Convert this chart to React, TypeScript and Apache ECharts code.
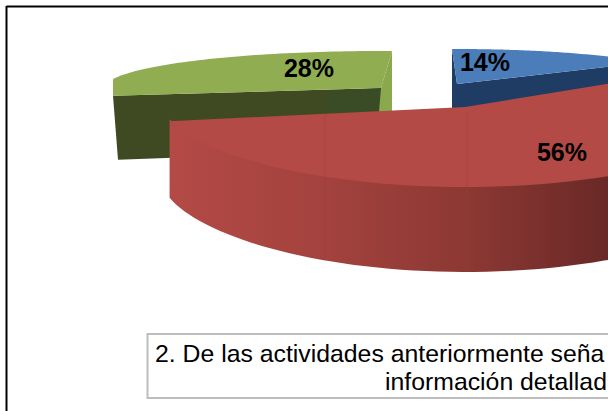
import React, { useEffect, useRef } from "react";
import * as echarts from "echarts";

const sliceNames = ["azul", "rojo", "verde"];
const sliceValues = [14, 56, 28];
const captionLines = ["2. De las actividades anteriormente seña", "información detallad"];

type Geo = { cx: number; cy: number; a: number; bBack: number; bFront: number; h: number; dh: number; minX: number;
  top: string; wall: string; lx: number; ly: number };
const geo: Geo[] = [
  { cx: 457, cy: 84, a: 243, bBack: 35, bFront: 35, h: 60, dh: 0, minX: 0, top: "#4a7db9", wall: "#1f3c64", lx: 485, ly: 62 },
  { cx: 465, cy: 107, a: 303, bBack: 62, bFront: 80, h: 74, dh: 11, minX: 0, top: "#b34a46", wall: "#a5423f", lx: 562, ly: 152 },
  { cx: 381, cy: 88, a: 276, bBack: 37, bFront: 44, h: 64, dh: 0, minX: 113, top: "#90ad52", wall: "#3f4a23", lx: 309, ly: 68 },
];

function rim(g: Geo, deg: number, drop = false): number[] {
  const t = (deg * Math.PI) / 180;
  const s = Math.sin(t);
  const x = Math.max(g.minX, g.cx + g.a * Math.cos(t));
  const y = s >= 0 ? g.cy - g.bBack * s : g.cy + g.bFront * Math.pow(-s, 1.15);
  return [x, drop ? y + g.h + g.dh * Math.abs(s) : y];
}

function arc(g: Geo, from: number, to: number, drop = false): number[][] {
  const pts: number[][] = [];
  const n = 72;
  for (let i = 0; i <= n; i++) pts.push(rim(g, from + ((to - from) * i) / n, drop));
  return pts;
}

function bounds(i: number): [number, number] {
  const total = sliceValues.reduce((a, b) => a + b, 0);
  let start = 90;
  for (let k = 0; k < i; k++) start -= (sliceValues[k] / total) * 360;
  return [start, start - (sliceValues[i] / total) * 360];
}

const poly = (points: number[][], fill: any, z2 = 0) => ({ type: "polygon", z2, shape: { points }, style: { fill } });

function renderSlice(i: number) {
  const g = geo[i];
  const v = sliceValues[i];
  const [s, e] = bounds(i);
  const apex = [g.cx, g.cy];
  const children: any[] = [];
  const face = [apex, ...arc(g, s, e)];
  if (i === 0) {
    const corner = rim(g, e);
    children.push(poly([apex, corner, [corner[0], corner[1] + g.h], [g.cx, g.cy + g.h]], g.wall));
    children.push(poly([[g.cx - 5, g.cy - g.bBack], apex, [g.cx, g.cy + 24], [g.cx - 5, g.cy + 24]], g.wall));
    face.splice(1, 0, [g.cx - 5, g.cy - g.bBack]);
  }
  if (i === 1) {
    const upper = arc(g, e, 0).map(([x, y]) => [x, y - 2]);
    const wall = [...upper, ...arc(g, 0, e, true)];
    children.push(poly(wall, new echarts.graphic.LinearGradient(0, 0, 1, 0, [
      { offset: 0, color: "#b34a46" },
      { offset: 0.26, color: "#a3423e" },
      { offset: 0.5, color: "#8c3833" },
      { offset: 0.74, color: "#682826" },
      { offset: 1, color: "#5a2220" },
    ])));
  }
  if (i === 2) {
    const left = rim(g, s);
    const tip = [g.cx + 11, g.cy - g.bBack];
    children.push(poly([left, apex, [g.cx, g.cy + 62], [left[0] + 5, left[1] + g.h]], g.wall));
    children.push(poly([[g.cx - 53, g.cy + 3], apex, [g.cx - 2, g.cy + 22], [g.cx - 53, g.cy + 26]], "#3a4c25"));
    children.push(poly([apex, tip, [g.cx + 11, g.cy + 24], [g.cx - 2, g.cy + 24]], "#8aa84e"));
    face.push(tip);
  }
  children.push(poly(face, g.top, 1));
  children.push({
    type: "text", z2: 5,
    style: { x: g.lx, y: g.ly, text: `${v}%`, fill: "#000", font: "bold 25px 'Liberation Sans'", align: "center", verticalAlign: "middle" },
  });
  if (i === 1) {
    [325, 467].forEach((x) => {
      const c = Math.max(-1, Math.min(1, (x - g.cx) / g.a));
      const deg = -(Math.acos(c) * 180) / Math.PI;
      const bottom = rim(g, deg, true);
      children.push({ type: "line", z2: 3, shape: { x1: x, y1: g.cy + 6, x2: x, y2: bottom[1] },
        style: { stroke: "#a03c34", lineWidth: 1, opacity: 0.45 } });
    });
  }
  return { type: "group", children };
}

export default function App() {
  const ref = useRef<HTMLDivElement>(null);
  useEffect(() => {
    document.body.style.margin = "0";
    const chart = echarts.init(ref.current!, null, { renderer: "svg" });
    chart.setOption({
      animation: false,
      backgroundColor: "#fff",
      graphic: [
        { type: "line", z: 10, shape: { x1: 6.5, y1: 6.5, x2: 608, y2: 6.5 }, style: { stroke: "#000", lineWidth: 2 } },
        { type: "line", z: 10, shape: { x1: 6.5, y1: 6, x2: 6.5, y2: 411 }, style: { stroke: "#000", lineWidth: 2 } },
        { type: "rect", z: 10, shape: { x: 147.5, y: 334, width: 480, height: 64 }, style: { fill: "#fff", stroke: "#bdbdbd", lineWidth: 2 } },
        { type: "text", z: 11, style: { x: 155, y: 353, text: captionLines[0], fill: "#000", font: "24.8px 'Liberation Sans'", verticalAlign: "middle" } },
        { type: "text", z: 11, style: { x: 385, y: 381, text: captionLines[1], fill: "#000", font: "24.8px 'Liberation Sans'", verticalAlign: "middle" } },
      ],
      series: [2, 0, 1].map((k) => ({
        type: "custom",
        coordinateSystem: "none",
        silent: true,
        z: 2,
        data: [[sliceNames[k], sliceValues[k]]],
        renderItem: () => renderSlice(k),
      })),
    });
    return () => chart.dispose();
  }, []);
  return <div ref={ref} style={{ width: 608, height: 411 }} />;
}
